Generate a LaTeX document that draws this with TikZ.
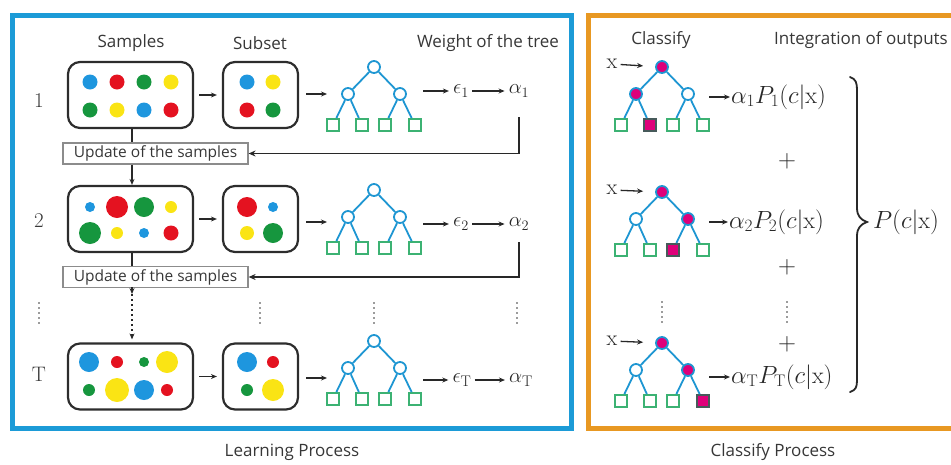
\documentclass[tikz,border=0pt]{standalone}
\usepackage{fontspec}
\setsansfont{Open Sans}
\usetikzlibrary{calc,arrows.meta}
\definecolor{frameblue}{RGB}{28,155,215}
\definecolor{frameorange}{RGB}{232,152,34}
\definecolor{labelgrey}{RGB}{55,55,55}
\definecolor{boxgrey}{RGB}{45,45,45}
\definecolor{upgrey}{RGB}{140,140,140}
\definecolor{arrgrey}{RGB}{40,40,40}
\definecolor{treeblue}{RGB}{30,150,210}
\definecolor{leafgreen}{RGB}{60,178,115}
\definecolor{darkleaf}{RGB}{70,90,90}
\definecolor{hotpink}{RGB}{222,0,122}
\definecolor{dblue}{RGB}{30,150,222}
\definecolor{dred}{RGB}{228,18,32}
\definecolor{dgreen}{RGB}{22,150,62}
\definecolor{dyellow}{RGB}{250,228,20}
\tikzset{
 lbl/.style={font=\sffamily\fontsize{17}{19}\selectfont, text=labelgrey},
 num/.style={font=\fontsize{21}{24}\selectfont, text=labelgrey},
 mth/.style={font=\fontsize{22}{26}\selectfont, text=arrgrey, inner sep=1pt},
 fml/.style={font=\fontsize{24}{28}\selectfont, text=arrgrey, inner sep=1pt},
 sbox/.style={draw=boxgrey, line width=2.2pt, rounded corners=12pt, minimum height=66pt, inner sep=0pt},
 upbox/.style={draw=upgrey, line width=1.2pt, font=\sffamily\fontsize{15.5}{17}\selectfont, text=labelgrey, minimum width=185pt, minimum height=21pt, inner sep=0pt},
 arr/.style={line width=1.3pt, draw=arrgrey, -{Stealth[length=6pt,width=5pt]}},
 fb/.style={line width=1.8pt, draw=arrgrey, -{Stealth[length=7pt,width=6pt]}},
 tn/.style={circle, draw=treeblue, line width=1.8pt, fill=white, minimum size=12pt, inner sep=0pt},
 tf/.style={tn, fill=hotpink},
 lf/.style={rectangle, draw=leafgreen, line width=1.8pt, fill=white, minimum size=12pt, inner sep=0pt},
 lff/.style={lf, draw=darkleaf, fill=hotpink},
 tedge/.style={draw=treeblue, line width=1.8pt},
 vdot/.style={draw=labelgrey, line width=1.6pt, dash pattern=on 0pt off 5pt, line cap=round},
}
\newcommand\btree[9]{%
 \node[#3] (#1r) at (#2) {};
 \node[#4] (#1a) at ($(#1r)+(-26,27)$) {};
 \node[#5] (#1b) at ($(#1r)+(26,27)$) {};
 \node[#6] (#1l1) at ($(#1r)+(-41,58)$) {};
 \node[#7] (#1l2) at ($(#1r)+(-12,58)$) {};
 \node[#8] (#1l3) at ($(#1r)+(11,58)$) {};
 \node[#9] (#1l4) at ($(#1r)+(41,58)$) {};
 \draw[tedge] (#1r) -- (#1a);
 \draw[tedge] (#1r) -- (#1b);
 \draw[tedge] (#1a) -- (#1l1);
 \draw[tedge] (#1a) -- (#1l2);
 \draw[tedge] (#1b) -- (#1l3);
 \draw[tedge] (#1b) -- (#1l4);
}
\newcommand\dotc[4]{\fill[#4] (#1,#2) circle (#3);}
\begin{document}
\begin{tikzpicture}[x=1pt,y=-1pt]
\useasboundingbox (0,0) rectangle (951,464);
% frames
\draw[line width=5pt, frameblue] (12.5,15) rectangle (571,428);
\draw[line width=5pt, frameorange] (588.5,15) rectangle (975,428);
% headings
\node[lbl] (hS) at (131,43) {Samples};
\node[lbl] (hU) at (260,43) {Subset};
\node[lbl] (hW) at (488,43) {Weight of the tree};
\node[lbl] (hC) at (661,40) {Classify};
\node[lbl] (hI) at (861,40) {Integration of outputs};
\node[lbl] (hL) at (292,452) {Learning Process};
\node[lbl] (hCP) at (773,452) {Classify Process};
% row labels
\node[num] (n1) at (39,101) {1};
\node[num] (n2) at (39,221) {2};
\node[num] (nT) at (39,374) {T};
% sample boxes
\node[sbox, minimum width=125pt] (s1) at (130.5,95) {};
\node[sbox, minimum width=75pt] (sub1) at (260.5,95) {};
\node[sbox, minimum width=125pt] (s2) at (130.5,219) {};
\node[sbox, minimum width=75pt] (sub2) at (260.5,219) {};
\node[sbox, minimum width=125pt] (sT) at (130.5,376.5) {};
\node[sbox, minimum width=75pt] (subT) at (260.5,376.5) {};
% dots row 1
\dotc{90}{82}{7.5}{dblue}\dotc{117}{82}{7.5}{dred}\dotc{144}{82}{7.5}{dgreen}\dotc{171}{82}{7.5}{dyellow}
\dotc{90}{110}{7.5}{dgreen}\dotc{117}{110}{7.5}{dyellow}\dotc{144}{110}{7.5}{dblue}\dotc{171}{110}{7.5}{dred}
\dotc{247}{82}{7.5}{dblue}\dotc{273}{82}{7.5}{dyellow}
\dotc{247}{110}{7.5}{dred}\dotc{273}{110}{7.5}{dgreen}
% dots row 2
\dotc{90}{207}{5}{dblue}\dotc{117}{207}{11}{dred}\dotc{144}{207}{10}{dgreen}\dotc{171}{207}{6}{dyellow}
\dotc{90}{233}{11}{dgreen}\dotc{117}{233}{6}{dyellow}\dotc{144}{233}{5}{dblue}\dotc{171}{233}{7.5}{dred}
\dotc{247}{207}{10}{dred}\dotc{273}{207}{5}{dblue}
\dotc{247}{233}{7}{dyellow}\dotc{273}{233}{10}{dgreen}
% dots row T
\dotc{89}{362}{10}{dblue}\dotc{117}{362}{6}{dred}\dotc{144}{362}{5}{dgreen}\dotc{167}{362}{11}{dyellow}
\dotc{89}{390}{6}{dgreen}\dotc{117}{390}{12}{dyellow}\dotc{144}{390}{10}{dblue}\dotc{167}{390}{6}{dred}
\dotc{247}{362}{10}{dblue}\dotc{273}{362}{6}{dred}
\dotc{247}{390}{6}{dgreen}\dotc{273}{390}{11}{dyellow}
% learning trees
\btree{t1}{374,67}{tn}{tn}{tn}{lf}{lf}{lf}{lf}
\btree{t2}{374,190}{tn}{tn}{tn}{lf}{lf}{lf}{lf}
\btree{tT}{374,341}{tn}{tn}{tn}{lf}{lf}{lf}{lf}
% eps / alpha
\node[mth] (e1) at (461,91) {$\epsilon_1$};
\node[mth] (a1) at (519,91) {$\alpha_1$};
\node[mth] (e2) at (461,224) {$\epsilon_2$};
\node[mth] (a2) at (519,224) {$\alpha_2$};
\node[mth] (eT) at (462,380) {$\epsilon_{\mathrm{T}}$};
\node[mth] (aT) at (521,380) {$\alpha_{\mathrm{T}}$};
% arrows row 1
\coordinate (t1i) at (327,94);
\coordinate (t1o) at (423,91);
\draw[arr, shorten <=5pt, shorten >=5pt] (s1) -- (sub1);
\draw[arr, shorten <=7pt] (sub1.east |- t1i) -- (t1i);
\draw[arr, shorten >=3pt] (t1o) -- (e1);
\draw[arr, shorten <=2pt, shorten >=3pt] (e1) -- (a1);
% arrows row 2
\coordinate (t2i) at (327,222);
\coordinate (t2o) at (423,224);
\draw[arr, shorten <=5pt, shorten >=5pt] (s2) -- (sub2);
\draw[arr, shorten <=7pt] (sub2.east |- t2i) -- (t2i);
\draw[arr, shorten >=3pt] (t2o) -- (e2);
\draw[arr, shorten <=2pt, shorten >=3pt] (e2) -- (a2);
% arrows row T
\coordinate (tTi) at (327,378);
\coordinate (tTo) at (423,380);
\draw[arr, shorten <=5pt, shorten >=5pt] (sT) -- (subT);
\draw[arr, shorten <=7pt] (subT.east |- tTi) -- (tTi);
\draw[arr, shorten >=3pt] (tTo) -- (eT);
\draw[arr, shorten <=2pt, shorten >=3pt] (eT) -- (aT);
% update boxes
\node[upbox] (up1) at (155.5,153.5) {Update of the samples};
\node[upbox] (up2) at (155.5,277) {Update of the samples};
\coordinate (f1) at (519,117);
\coordinate (f2) at (519,242);
\draw[fb] (f1) |- (up1.east);
\draw[fb] (f2) |- (up2.east);
\draw[line width=1.8pt, arrgrey] (s1.south -| 132,0) -- (up1.north -| 132,0);
\draw[arr] (up1.south -| 132,0) -- (s2.north -| 132,0);
\draw[line width=1.8pt, arrgrey] (s2.south -| 132,0) -- (up2.north -| 132,0);
\coordinate (d0) at (132,287);
\coordinate (d1) at (132,294);
\draw[arr] (d0) -- (d1);
\draw[arr, dash pattern=on 2pt off 3pt, shorten >=3pt] (d1) -- (sT.north -| 132,0);
% vertical dots learning
\draw[vdot] (39,303) -- (39,323);
\draw[vdot] (260,303) -- (260,323);
\draw[vdot] (374,303) -- (374,323);
\draw[vdot] (517,303) -- (517,323);
% classify trees
\btree{c1}{662,67}{tf}{tf}{tn}{lf}{lff}{lf}{lf}
\btree{c2}{662,192}{tf}{tn}{tf}{lf}{lf}{lff}{lf}
\btree{c3}{662,343}{tf}{tn}{tf}{lf}{lf}{lf}{lff}
\node[mth] (x1) at (612,64) {x};
\node[mth] (x2) at (612,190) {x};
\node[mth] (x3) at (612,341) {x};
\draw[arr, shorten <=2pt, shorten >=12pt] (x1) -- (c1r);
\draw[arr, shorten <=2pt, shorten >=12pt] (x2) -- (c2r);
\draw[arr, shorten <=2pt, shorten >=12pt] (x3) -- (c3r);
\node[fml, anchor=west] (F1) at (730,97) {$\alpha_1P_1(c|\mathrm{x})$};
\node[fml, anchor=west] (F2) at (728,222) {$\alpha_2P_2(c|\mathrm{x})$};
\node[fml, anchor=west] (F3) at (730,377) {$\alpha_{\mathrm{T}}P_{\mathrm{T}}(c|\mathrm{x})$};
\coordinate (c1o) at (709,97);
\coordinate (c2o) at (709,222);
\coordinate (c3o) at (709,377);
\draw[arr] (c1o) -- (F1.west);
\draw[arr] (c2o) -- (F2.west);
\draw[arr] (c3o) -- (F3.west);
\node[fml] (p1) at (787,161) {$+$};
\node[fml] (p2) at (787,267) {$+$};
\node[fml] (p3) at (787,344) {$+$};
\draw[vdot] (662,302) -- (662,322);
\draw[vdot] (787,302) -- (787,322);
% brace
\draw[line width=1.8pt, arrgrey, line cap=round]
  (850,77) .. controls (856,79) and (857,83) .. (857,90)
  -- (857,208) .. controls (857,216) and (861,220) .. (867,222)
  .. controls (861,224) and (857,228) .. (857,236)
  -- (857,380) .. controls (857,387) and (856,390) .. (850,392);
\node[fml] (P) at (906,222) {$P(c|\mathrm{x})$};
\end{tikzpicture}
\end{document}
